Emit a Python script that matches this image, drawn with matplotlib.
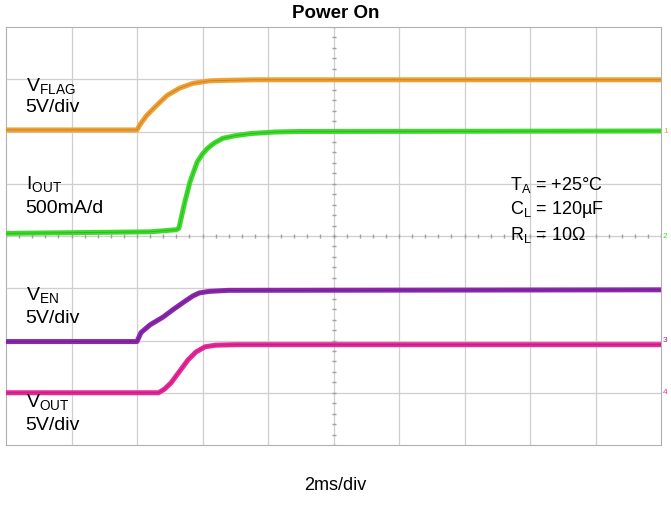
import numpy as np
import matplotlib
matplotlib.use('Agg')
import matplotlib.pyplot as plt

plt.rcParams['font.family'] = ['Liberation Sans', 'DejaVu Sans']

# traces, x in divisions (2ms/div), y in divisions
t_flag = [0, 2.0, 2.05, 2.15, 2.3, 2.46, 2.65, 2.85, 3.0, 3.11, 3.4, 3.8, 10]
v_flag = [6.03, 6.03, 6.14, 6.31, 6.5, 6.69, 6.83, 6.92, 6.95, 6.97, 6.98, 6.99, 6.99]

t_iout = [0, 2.2, 2.6, 2.64, 2.72, 2.81, 2.92, 3.0, 3.07, 3.18, 3.31, 3.5, 3.73, 4.1, 4.49, 10]
v_iout = [4.05, 4.08, 4.12, 4.15, 4.6, 5.04, 5.42, 5.57, 5.67, 5.78, 5.87, 5.92, 5.96, 5.99, 6.0, 6.01]

t_en = [0, 2.0, 2.06, 2.2, 2.4, 2.56, 2.72, 2.85, 2.95, 3.1, 3.4, 10]
v_en = [1.98, 1.98, 2.15, 2.3, 2.45, 2.6, 2.74, 2.85, 2.91, 2.94, 2.96, 2.97]

t_out = [0, 2.33, 2.42, 2.52, 2.65, 2.78, 2.9, 3.04, 3.2, 3.5, 10]
v_out = [1.0, 1.0, 1.07, 1.19, 1.41, 1.63, 1.78, 1.88, 1.91, 1.92, 1.92]

colors = {'flag': '#f0a033', 'iout': '#3ddc2a', 'en': '#8b28ad', 'out': '#e8279b'}
dark = {'flag': '#8a5a10', 'iout': '#1f7a12', 'en': '#4a1060', 'out': '#80104f'}

fig = plt.figure(figsize=(6.71, 5.25), dpi=100)
ax = fig.add_axes([6/671, 80/525, 655/671, 418/525])
ax.set_xlim(0, 10)
ax.set_ylim(0, 8)

# grid
for i in range(1, 10):
    ax.axvline(i, color='#cfcfcf', lw=0.9, zorder=1)
for j in range(1, 8):
    ax.axhline(j, color='#cfcfcf', lw=0.9, zorder=1)
# center minor ticks
mx = np.arange(0, 10.01, 0.2)
ax.plot(mx, np.full_like(mx, 4.0), '|', color='#a0a0a0', ms=3, zorder=1)
my = np.arange(0, 8.01, 0.2)
ax.plot(np.full_like(my, 5.0), my, '_', color='#a0a0a0', ms=3, zorder=1)

for key, t, v in [('flag', t_flag, v_flag), ('iout', t_iout, v_iout),
                  ('en', t_en, v_en), ('out', t_out, v_out)]:
    ax.plot(t, v, color=colors[key], lw=3.6, solid_capstyle='butt',
            solid_joinstyle='round', zorder=3)
    ax.plot(t, v, color=dark[key], lw=0.6, alpha=0.45, zorder=4)

for s in ax.spines.values():
    s.set_color('#b0b0b0')
ax.set_xticks([])
ax.set_yticks([])

fs = 14
ax.text(0.3, 6.86, r'V$_{\mathregular{FLAG}}$', fontsize=fs, va='center')
ax.text(0.3, 6.45, '5V/div', fontsize=fs, va='center')
ax.text(0.3, 4.97, r'I$_{\mathregular{OUT}}$', fontsize=fs, va='center')
ax.text(0.3, 4.53, '500mA/d', fontsize=fs, va='center')
ax.text(0.3, 2.86, r'V$_{\mathregular{EN}}$', fontsize=fs, va='center')
ax.text(0.3, 2.42, '5V/div', fontsize=fs, va='center')
ax.text(0.3, 0.81, r'V$_{\mathregular{OUT}}$', fontsize=fs, va='center')
ax.text(0.3, 0.37, '5V/div', fontsize=fs, va='center')

fs2 = 13
ax.text(7.7, 4.97, r'T$_{\mathregular{A}}$ = +25°C', fontsize=fs2, va='center')
ax.text(7.7, 4.5, r'C$_{\mathregular{L}}$ = 120µF', fontsize=fs2, va='center')
ax.text(7.7, 4.02, r'R$_{\mathregular{L}}$ = 10Ω', fontsize=fs2, va='center')

# channel markers at the right edge
ax.text(10.03, 6.0, '1', color=colors['flag'], fontsize=6, va='center', clip_on=False)
ax.text(10.03, 4.0, '2', color=colors['iout'], fontsize=6, va='center', clip_on=False)
ax.text(10.03, 2.0, '3', color=colors['en'], fontsize=6, va='center', clip_on=False)
ax.text(10.03, 1.0, '4', color=colors['out'], fontsize=6, va='center', clip_on=False)

fig.text(0.5, 1 - 14/525, 'Power On', fontsize=13.5, fontweight='bold', ha='center', va='center')
fig.text(0.5, 1 - 486/525, '2ms/div', fontsize=13, ha='center', va='center')

fig.savefig('out.png', dpi=100)
